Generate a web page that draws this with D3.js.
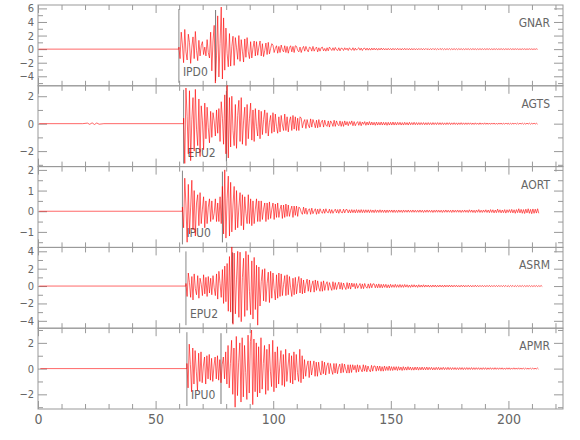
<!DOCTYPE html>
<html>
<head>
<meta charset="utf-8">
<script src="https://cdn.jsdelivr.net/npm/d3@7"></script>
<style>
  body { margin: 0; background: #fff; }
  text { font-family: "Liberation Sans Narrow", "DejaVu Sans Condensed", sans-serif; fill: #666; }
</style>
</head>
<body>
<svg id="chart" width="580" height="440"></svg>
<script>
// station names, pick labels and pick times (s)
const stations = ["GNAR", "AGTS", "AORT", "ASRM", "APMR"];
const pickLabels = ["IPD0", "EPU2", "IPU0", "EPU2", "IPU0"];
const pTimes = [59.9, 61.9, 61.4, 62.9, 63.3];
const sTimes = [75.5, 80.1, 78.4, 82.7, 77.8];

// y ranges and tick values for each panel
const yDomains = [[-5.4, 6.5], [-3.13, 2.76], [-1.75, 2.16], [-4.85, 4.45], [-3.14, 3.14]];
const yMajor = [[-4, -2, 0, 2, 4, 6], [-2, 0, 2], [-1, 0, 1, 2], [-4, -2, 0, 2, 4], [-2, 0, 2]];
const yMinor = [[-5, -3, -1, 1, 3, 5], [-3, -1, 1], [-1.5, -0.5, 0.5, 1.5], [-3, -1, 1, 3], [-3, -1, 1, 3]];
const xMajor = [0, 50, 100, 150, 200];
const xMinor = d3.range(10, 230, 10).filter(v => v % 50 !== 0);

// quiet part before the P arrival: [time, amplitude]
const gnarPre = [[0.3, 0], [59.9, 0]];
const agtsPre = [[0.5, 0], [19, 0], [21, .04], [22, -.05], [23, .06], [24, -.06], [25, .05], [26, -.04], [28, 0], [61.9, 0]];
const aortPre = [[0.5, 0], [61.4, 0]];
const asrmPre = [[0.5, 0], [62.9, 0]];
const apmrPre = [[1, 0], [63.3, 0]];

// amplitudes read every 0.5 s from the P arrival onward (20 values = 10 s per row)
const dt = 0.5;
const gnarWave = [
  0.3,-1.4,2.5,0.6,-2.0,2.9,-0.4,-1.6,2.2,1.0,-2.1,0.3,1.8,-1.4,2.6,-0.2,-1.7,1.3,-1.0,0.5,
  1.1,-0.8,0.3,-1.0,1.4,-0.5,-1.3,2.5,-3.2,1.2,3.5,-5.0,-1.0,4.9,-4.1,0.8,6.2,-4.4,4.6,-3.1,
  3.1,-0.6,-2.6,2.3,-2.5,0.4,1.9,-2.4,1.7,0.2,-1.5,2.0,-1.8,1.4,-0.3,-1.9,1.5,-1.2,1.7,-0.4,
  -1.4,1.1,-1.3,0.2,1.2,-1.0,1.1,-0.9,0.3,1.2,-1.0,0.8,-1.1,-0.2,0.9,-0.8,1.0,-0.7,0.1,0.8,
  .6,-.5,.1,.5,-.6,.4,-.5,.6,-.1,-.4,.5,-.5,.4,-.6,.2,.5,-.4,.4,-.5,.5,
  .4,-.2,-.4,.3,-.5,.1,.4,-.3,.4,-.1,-.4,.3,.2,-.3,.4,-.3,.1,.3,-.4,.2,
  -.3,.2,.3,-.25,.1,-.3,.2,-.25,.3,.05,-.2,.2,-.2,.25,-.1,-.2,.2,-.25,.15,.1,
  -.2,.2,-.1,.15,-.2,.2,-.05,-.15,.2,-.2,.15,-.15,.05,.2,-.15,.15,-.2,.1,.15,-.15,
  .15,-.15,.12,-.15,.15,-.12,.15,-.12,.12,-.15,.12,-.12,.15,-.1,.12,-.12,.1,-.12,.12,-.1,
  .1,-.12,.12,-.1,.1,-.1,.12,-.1,.1,-.12,.1,-.1,.12,-.1,.1,-.1,.1,-.12,.1,-.1,
  .1,-.1,.08,-.1,.1,-.08,.1,-.1,.08,-.08,.1,-.08,.08,-.1,.08,-.08,.1,-.08,.08,-.08,
  .08,-.08,.1,-.07,.08,-.08,.07,-.08,.08,-.07,.08,-.08,.07,-.07,.08,-.07,.07,-.08,.08,-.07,
  .07,-.07,.06,-.07,.07,-.06,.07,-.07,.06,-.06,.07,-.06,.06,-.07,.06,-.06,.07,-.06,.06,-.06,
  .06,-.06,.07,-.05,.06,-.06,.05,-.06,.06,-.05,.06,-.06,.05,-.05,.06,-.05,.05,-.06,.06,-.05,
  .05,-.05,.06,-.05,.05,-.05,.05,-.04,.05,-.05,.04,-.05,.05,-.04,.05,-.05,.04,-.04,.05,-.04,
  .04,-.05,.04,-.04,.05,-.04
];
const agtsWave = [
  0.4,-2.9,2.6,0.5,-2.2,2.4,-2.7,0.3,1.9,-2.0,2.5,-0.4,-1.6,1.8,-2.4,1.3,0.2,-1.9,1.5,-1.1,
  1.2,-0.3,-1.4,0.9,-1.0,0.8,0.2,-0.9,1.0,-0.7,1.1,-1.3,1.6,0.4,-1.5,2.1,-2.2,2.8,-2.5,1.9,
  -1.7,2.0,-0.5,-1.6,1.4,-1.8,0.6,1.7,-1.3,1.9,-1.5,0.2,1.2,-1.6,1.4,-1.1,0.4,1.5,-1.2,1.0,
  -1.3,1.1,-0.2,-0.9,1.0,-1.1,.9,-.8,.3,1.0,-.7,.8,-.9,.1,.6,-.7,.8,-.6,.7,-.2,
  -.7,.5,-.6,.6,-.1,-.5,.7,-.5,.5,-.6,.2,.5,-.5,.6,-.4,.5,-.5,.4,-.5,.5,
  .4,-.3,.1,.3,-.35,.3,-.1,-.3,.35,-.25,.3,.05,-.3,.25,-.3,.3,-.25,.1,.25,-.25,
  .25,-.1,-.2,.2,-.25,.2,.05,-.2,.25,-.2,.2,-.05,-.15,.2,-.2,.15,-.2,.2,-.1,.15,
  -.15,.15,-.05,.2,-.15,.15,-.15,.05,.15,-.12,.15,-.15,.12,-.05,.15,-.12,.12,-.1,.15,-.1,
  .12,-.1,.1,-.12,.12,-.1,.1,-.1,.12,-.1,.1,-.1,.1,-.12,.1,-.1,.1,-.1,.12,-.1,
  .1,-.1,.1,-.08,.1,-.1,.08,-.1,.1,-.08,.08,-.1,.1,-.08,.08,-.08,.1,-.08,.08,-.08,
  .08,-.08,.08,-.07,.08,-.08,.07,-.08,.08,-.07,.07,-.08,.08,-.07,.07,-.07,.08,-.07,.07,-.07,
  .07,-.07,.06,-.07,.07,-.06,.07,-.07,.06,-.06,.07,-.06,.06,-.07,.06,-.06,.07,-.06,.06,-.06,
  .06,-.06,.06,-.05,.06,-.06,.05,-.06,.06,-.05,.05,-.06,.06,-.05,.05,-.05,.06,-.05,.05,-.05,
  .05,-.05,.05,-.04,.05,-.05,.04,-.05,.05,-.04,.05,-.05,.04,-.04,.05,-.04,.04,-.05,.04,-.04,
  .04,-.04,.05,-.04,.04,-.04,.04,-.03,.04,-.04,.03,-.04,.04,-.03,.04,-.04,.03,-.03,.04,-.03,
  .03,-.04
];
const aortWave = [
  0.2,-0.8,1.6,0.3,-1.5,1.3,-1.1,0.2,1.5,-0.9,1.0,-1.2,0.4,0.8,-0.7,0.9,-0.6,0.1,0.7,-0.8,
  0.5,-0.6,0.2,0.6,-0.5,0.5,-0.4,-0.1,0.6,-0.5,0.4,-0.5,0.7,-0.6,1.2,-1.1,2.0,-1.3,0.6,1.7,
  -1.2,1.4,-1.0,0.3,1.2,-0.9,1.0,-0.8,0.2,0.9,-0.7,0.8,-0.9,0.7,-0.1,-0.6,0.8,-0.6,0.6,-0.7,
  .5,-.6,.1,.6,-.5,.5,-.5,.5,-.4,.1,.4,-.5,.4,-.4,.45,-.35,.1,.4,-.4,.35,
  -.3,.4,-.3,.1,.3,-.35,.3,-.3,.35,-.25,.3,-.25,.05,.25,-.3,.25,-.2,.25,-.25,.2,
  .15,-.05,-.15,.2,-.12,.15,-.15,.05,.12,-.15,.15,-.12,.02,.12,-.15,.1,-.12,.12,-.02,-.1,
  .1,-.1,.12,-.04,-.08,.1,-.1,.08,-.1,.02,.1,-.08,.08,-.1,.1,-.05,-.08,.1,-.08,.08,
  .08,-.08,.07,-.08,.08,-.07,.07,-.08,.08,-.07,.07,-.07,.08,-.07,.07,-.07,.07,-.06,.07,-.07,
  .07,-.06,.06,-.07,.07,-.06,.06,-.06,.07,-.06,.06,-.06,.06,-.07,.06,-.06,.06,-.05,.06,-.06,
  .06,-.06,.05,-.06,.06,-.05,.05,-.06,.06,-.05,.05,-.05,.06,-.05,.05,-.05,.06,-.05,.05,-.05,
  .05,-.05,.06,-.05,.05,-.06,.05,-.05,.06,-.05,.05,-.05,.05,-.06,.05,-.05,.06,-.05,.05,-.05,
  .05,-.06,.05,-.05,.06,-.05,.05,-.05,.05,-.06,.06,-.05,.05,-.05,.06,-.05,.05,-.06,.05,-.05,
  .06,-.05,.05,-.06,.07,-.05,.06,-.06,.05,-.07,.06,-.05,.08,-.06,.05,-.06,.06,-.05,.07,-.06,
  .06,-.07,.08,-.06,.07,-.08,.06,-.07,.1,-.06,.07,-.08,.06,-.07,.08,-.09,.07,-.06,.08,-.07,
  .09,-.08,.07,-.1,.08,-.07,.12,-.08,.09,-.1,.08,-.11,.1,-.08,.12,-.1,.09,-.12,.11,-.1,
  .1,-.09,.12,-.1
];
const asrmWave = [
  0.3,-1.2,1.5,0.4,-1.3,1.1,-1.6,1.4,-0.3,-1.0,1.2,-1.4,0.9,0.2,-1.1,1.3,-0.9,1.0,-1.2,1.1,
  -0.8,0.9,-1.0,1.2,-0.2,-1.1,1.4,-1.5,1.7,0.3,-1.3,1.9,-2.0,2.3,-1.8,2.6,-2.9,3.4,-3.0,4.5,
  -4.4,3.8,-3.2,0.8,4.0,-3.6,3.9,-4.1,1.0,3.2,-3.5,4.0,-2.8,3.6,-0.6,-3.3,2.9,-3.8,3.3,-2.7,
  2.4,-4.5,2.2,-2.3,0.5,1.9,-1.7,2.0,-1.8,0.3,1.6,-1.9,1.7,-1.4,1.5,-0.3,-1.6,1.3,-1.4,1.5,
  -1.2,1.4,-1.1,0.2,1.2,-1.1,1.3,-1.0,1.1,-0.2,-1.2,0.9,-1.0,1.0,-0.9,0.3,1.1,-0.8,0.9,-0.9,
  .7,-.8,.2,.8,-.6,.7,-.7,.1,.6,-.7,.7,-.5,.6,-.2,-.6,.5,-.6,.6,-.5,.2,
  .5,-.5,.4,-.1,-.5,.5,-.4,.4,-.4,.1,.45,-.35,.4,-.4,.35,-.1,-.4,.4,-.3,.35,
  -.35,.35,-.1,.3,-.3,.3,-.25,.05,.3,-.3,.25,-.3,.3,-.1,-.25,.25,-.25,.3,-.2,.25,
  .25,-.2,.2,-.2,.25,-.2,.2,-.2,.2,-.15,.2,-.2,.15,-.2,.2,-.15,.15,-.15,.2,-.15,
  .15,-.15,.18,-.15,.15,-.15,.18,-.12,.15,-.15,.12,-.15,.15,-.12,.15,-.12,.12,-.15,.15,-.12,
  .12,-.12,.15,-.12,.12,-.1,.12,-.12,.1,-.12,.12,-.1,.12,-.12,.1,-.1,.12,-.1,.1,-.12,.12,-.1,
  .1,-.1,.12,-.1,.1,-.1,.1,-.08,.1,-.1,.08,-.1,.1,-.08,.1,-.1,.08,-.08,.1,-.08,.08,-.1,
  .08,-.08,.1,-.08,.08,-.08,.08,-.07,.08,-.08,.07,-.08,.08,-.07,.08,-.08,.07,-.07,.08,-.07,
  .07,-.07,.08,-.07,.07,-.07,.07,-.06,.07,-.07,.06,-.07,.07,-.06,.07,-.07,.06,-.06,.07,-.06,
  .06,-.06,.07,-.06,.06,-.06,.06,-.05,.06,-.06,.05,-.06,.06,-.05,.06,-.06,.05,-.05,.06,-.05
];
const apmrWave = [
  0.4,-1.5,1.9,0.3,-1.8,1.6,-1.2,1.4,-0.2,-1.7,1.2,-1.0,1.3,-1.1,0.2,0.9,-1.2,1.0,-0.8,1.1,
  -0.9,0.8,-1.0,0.2,0.9,-0.8,1.0,-0.9,0.7,-1.1,0.3,0.9,-0.8,1.3,-1.2,1.8,-1.5,0.4,2.2,-2.0,
  1.6,-3.0,2.5,-2.1,0.5,2.0,-2.6,2.4,-2.2,1.8,-0.3,-2.4,2.6,-1.9,2.1,3.0,-2.8,2.3,-1.8,2.0,
  -2.2,1.7,-1.9,2.4,-1.6,0.4,1.8,-2.0,1.5,-1.7,1.9,-0.2,-1.4,2.2,-1.8,1.3,-1.5,1.7,-1.2,0.3,
  1.4,-1.3,1.1,-1.4,1.5,-1.0,0.2,1.2,-1.1,1.0,-1.2,1.3,-0.9,1.1,-0.3,-1.0,1.5,-1.1,1.0,-0.8,
  .7,-.6,.2,.6,-.7,.6,-.5,.1,.6,-.6,.5,-.6,.5,-.2,-.5,.6,-.4,.5,-.5,.2,
  .45,-.4,.4,-.1,-.45,.4,-.35,.4,-.4,.1,.35,-.35,.4,-.3,.35,-.05,-.35,.3,-.35,.3,
  -.3,.3,-.1,.25,-.3,.3,-.25,.25,-.05,-.25,.3,-.2,.25,-.25,.2,-.1,-.25,.25,-.2,.2,
  .2,-.2,.2,-.15,.2,-.2,.15,-.2,.2,-.15,.15,-.15,.2,-.15,.15,-.15,.15,-.12,.15,-.15,
  .15,-.12,.12,-.15,.15,-.12,.12,-.12,.15,-.1,.12,-.12,.1,-.12,.12,-.1,.12,-.12,.1,-.1,
  .12,-.1,.1,-.1,.12,-.1,.1,-.08,.1,-.1,.08,-.1,.1,-.08,.1,-.1,.08,-.08,.1,-.08,
  .08,-.08,.1,-.08,.08,-.08,.08,-.07,.08,-.08,.07,-.08,.08,-.07,.08,-.08,.07,-.07,.08,-.07,
  .07,-.07,.08,-.07,.07,-.07,.07,-.06,.07,-.07,.06,-.07,.07,-.06,.07,-.07,.06,-.06,.07,-.06,
  .06,-.06,.07,-.06,.06,-.06,.06,-.05,.06,-.06,.05,-.06,.06,-.05,.06,-.06,.05,-.05,.06,-.05,
  .05,-.05,.06,-.05,.05,-.05,.05,-.04,.05,-.05,.04,-.05,.05,-.04,.05,-.05,.04,-.04,.05,-.04
];

const preList = [gnarPre, agtsPre, aortPre, asrmPre, apmrPre];
const waveList = [gnarWave, agtsWave, aortWave, asrmWave, apmrWave];

const svg = d3.select("#chart");
const plotLeft = 38, plotRight = 563, plotTop = 5, plotBottom = 409;
const panelH = (plotBottom - plotTop) / stations.length;
const axisColor = "#999";

const x = d3.scaleLinear().domain([0, 223.2]).range([plotLeft, plotRight]);

const line = d3.line()
  .x(d => x(d[0]))
  .y(d => d[1]);

stations.forEach((name, i) => {
  const y0 = plotTop + i * panelH;
  const y = d3.scaleLinear().domain(yDomains[i]).range([y0 + panelH, y0]);
  const g = svg.append("g");

  // frame
  g.append("rect")
    .attr("x", plotLeft).attr("y", y0)
    .attr("width", plotRight - plotLeft).attr("height", panelH)
    .attr("fill", "none").attr("stroke", axisColor).attr("stroke-width", 1);

  const noDomain = s => s.select(".domain").remove();
  const tickStyle = s => s.selectAll("line").attr("stroke", axisColor);

  // x ticks on top (pointing down) and bottom (pointing up)
  [[xMajor, 8], [xMinor, 5]].forEach(([vals, len]) => {
    g.append("g").attr("transform", `translate(0,${y0})`)
      .call(d3.axisBottom(x).tickValues(vals).tickSize(len).tickFormat(""))
      .call(noDomain).call(tickStyle);
    g.append("g").attr("transform", `translate(0,${y0 + panelH})`)
      .call(d3.axisTop(x).tickValues(vals).tickSize(len).tickFormat(""))
      .call(noDomain).call(tickStyle);
  });

  // y ticks on left (pointing right) and right (pointing left)
  [[yMajor[i], 9], [yMinor[i], 5]].forEach(([vals, len]) => {
    g.append("g").attr("transform", `translate(${plotLeft},0)`)
      .call(d3.axisRight(y).tickValues(vals).tickSize(len).tickFormat(""))
      .call(noDomain).call(tickStyle);
    g.append("g").attr("transform", `translate(${plotRight},0)`)
      .call(d3.axisLeft(y).tickValues(vals).tickSize(len).tickFormat(""))
      .call(noDomain).call(tickStyle);
  });

  // y tick labels
  g.append("g").attr("transform", `translate(${plotLeft},0)`)
    .call(d3.axisLeft(y).tickValues(yMajor[i]).tickSize(0).tickPadding(4)
      .tickFormat(d => d < 0 ? "\u2212" + Math.abs(d) : d))
    .call(noDomain)
    .selectAll("text").style("font-size", "11px").attr("fill", "#666");

  // P pick line and label
  g.append("line")
    .attr("x1", x(pTimes[i])).attr("x2", x(pTimes[i]))
    .attr("y1", y0 + 4).attr("y2", y0 + panelH - 3)
    .attr("stroke", "#888").attr("stroke-width", 1);
  g.append("text")
    .attr("x", x(pTimes[i]) + 4).attr("y", y0 + panelH - 10)
    .style("font-size", "12px")
    .text(pickLabels[i]);

  // S marker
  g.append("line")
    .attr("x1", x(sTimes[i])).attr("x2", x(sTimes[i]))
    .attr("y1", y0 + 5).attr("y2", y0 + panelH - 5)
    .attr("stroke", "#555").attr("stroke-width", 0.8);

  // trace
  const pts = preList[i].map(d => [d[0], y(d[1])])
    .concat(waveList[i].map((v, k) => [pTimes[i] + k * dt, y(v)]));
  g.append("path")
    .attr("d", line(pts))
    .attr("fill", "none")
    .attr("stroke", "#ff0000")
    .attr("stroke-width", 0.6);

  // station name
  g.append("text")
    .attr("x", plotRight - 13).attr("y", y0 + 22)
    .attr("text-anchor", "end")
    .style("font-size", "12px")
    .text(name);
});

// bottom time axis labels
svg.append("g").attr("transform", `translate(0,${plotBottom})`)
  .call(d3.axisBottom(x).tickValues(xMajor).tickSize(0).tickPadding(5))
  .call(s => s.select(".domain").remove())
  .selectAll("text").style("font-size", "14px").attr("fill", "#666");
</script>
</body>
</html>
